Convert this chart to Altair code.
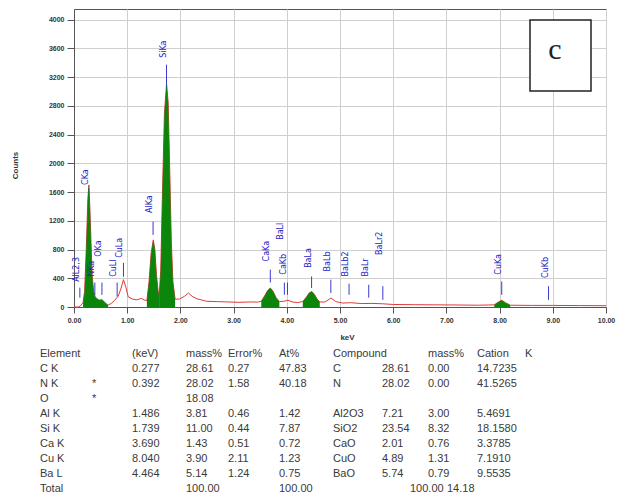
import altair as alt
import pandas as pd

# ---------------- spectrum data (keV, counts) ----------------
kev = [0.00, 0.08, 0.12, 0.17, 0.20, 0.23, 0.26, 0.28, 0.30, 0.32, 0.34, 0.37, 0.40, 0.44, 0.48,
       0.52, 0.56, 0.60, 0.64, 0.70, 0.76, 0.83, 0.88, 0.93, 0.97, 1.02, 1.10, 1.18, 1.27, 1.33,
       1.37, 1.41, 1.45, 1.49, 1.52, 1.55, 1.58, 1.60, 1.63, 1.66, 1.70, 1.74, 1.77, 1.80, 1.83,
       1.86, 1.90, 1.98, 2.08, 2.15, 2.22, 2.31, 2.49, 2.70, 2.90, 3.10, 3.30, 3.45, 3.52, 3.58,
       3.64, 3.69, 3.74, 3.80, 3.86, 3.95, 4.02, 4.10, 4.20, 4.30, 4.37, 4.42, 4.47, 4.52, 4.57,
       4.62, 4.72, 4.83, 4.92, 5.05, 5.20, 5.40, 5.60, 5.80, 6.00, 6.40, 6.80, 7.20, 7.60, 7.90,
       7.97, 8.04, 8.11, 8.20, 8.60, 9.00, 9.50, 10.00]
counts = [0, 0, 15, 60, 220, 800, 1500, 1700, 1350, 900, 450, 210, 140, 110, 95,
          105, 80, 50, 25, 50, 90, 150, 250, 380, 290, 140, 110, 100, 120, 95,
          90, 350, 750, 935, 800, 450, 230, 150, 500, 1500, 2700, 3110, 2850, 1900, 900,
          350, 110, 110, 150, 195, 150, 115, 80, 75, 70, 65, 70, 68, 80, 150,
          230, 265, 220, 130, 75, 80, 95, 70, 62, 75, 140, 195, 217, 175, 110,
          70, 70, 125, 75, 55, 60, 48, 50, 45, 35, 32, 30, 28, 25, 30,
          65, 95, 60, 25, 22, 22, 20, 18]

# energy windows of the identified (green) peaks
peak_start = [0.17, 1.37, 1.60, 3.52, 4.30, 7.90]
peak_end = [0.64, 1.60, 1.90, 3.86, 4.62, 8.20]

# peak markers
mk_name = ["AlL2,3", "CKa", "NKa", "OKa", "CuLl", "CuLa", "AlKa", "SiKa", "CaKa", "BaLl", "CaKb",
           "BaLa", "BaLb", "BaLb2", "BaLr", "BaLr2", "CuKa", "CuKb"]
mk_kev = [0.11, 0.277, 0.392, 0.525, 0.811, 0.930, 1.486, 1.739, 3.690, 3.954, 4.012,
          4.466, 4.828, 5.170, 5.540, 5.805, 8.040, 8.920]
mk_lo = [130, 1500, 170, 170, 145, 420, 1005, 3015, 340, 170, 170,
         265, 195, 170, 130, 100, 170, 100]
mk_hi = [270, 1650, 340, 340, 340, 615, 1190, 3375, 520, 340, 340,
         425, 380, 325, 310, 290, 355, 290]
mk_lab = [350, 1700, 420, 700, 420, 685, 1310, 3470, 635, 935, 450,
          545, 495, 425, 425, 725, 450, 405]

# ---------------- table ----------------
t_element = ["Element", "C K", "N K", "O", "Al K", "Si K", "Ca K", "Cu K", "Ba L", "Total"]
t_flag = ["", "", "*", "*", "", "", "", "", "", ""]
t_kev = ["(keV)", "0.277", "0.392", "", "1.486", "1.739", "3.690", "8.040", "4.464", ""]
t_mass = ["mass%", "28.61", "28.02", "18.08", "3.81", "11.00", "1.43", "3.90", "5.14", "100.00"]
t_err = ["Error%", "0.27", "1.58", "", "0.46", "0.44", "0.51", "2.11", "1.24", ""]
t_at = ["At%", "47.83", "40.18", "", "1.42", "7.87", "0.72", "1.23", "0.75", "100.00"]
t_comp = ["Compound", "C", "N", "", "Al2O3", "SiO2", "CaO", "CuO", "BaO", ""]
t_cmass = ["", "28.61", "28.02", "", "7.21", "23.54", "2.01", "4.89", "5.74", ""]
t_cmass2 = ["mass%", "0.00", "0.00", "", "3.00", "8.32", "0.76", "1.31", "0.79", ""]
t_cation = ["Cation", "14.7235", "41.5265", "", "5.4691", "18.1580", "3.3785", "7.1910", "9.5535", ""]
t_k = ["K", "", "", "", "", "", "", "", "", ""]
t_total_extra = ["100.00", "14.18"]

# ---------------- layout ----------------
PL, PT = 74, 9            # page position of plot origin
W, H = 532, 298
col_x = [40, 92, 132, 186, 228, 279, 333, 382, 428, 477, 525]
total_extra_x = [410, 447]
row_y0, row_dy = 354, 15.0

spec = pd.DataFrame({"kev": kev, "counts": counts})
frames = []
for i, (a, b) in enumerate(zip(peak_start, peak_end)):
    sub = spec[(spec.kev >= a) & (spec.kev <= b)].copy()
    sub["grp"] = i
    frames.append(sub)
green = pd.concat(frames)

markers = pd.DataFrame({"name": mk_name, "kev": mk_kev, "lo": mk_lo, "hi": mk_hi, "lab": mk_lab})

cols = [t_element, t_flag, t_kev, t_mass, t_err, t_at, t_comp, t_cmass, t_cmass2, t_cation, t_k]
recs = []
for cx, col in zip(col_x, cols):
    for r, txt in enumerate(col):
        if txt:
            recs.append({"t": txt, "xp": cx - PL, "yp": row_y0 + r * row_dy - PT})
for cx, txt in zip(total_extra_x, t_total_extra):
    recs.append({"t": txt, "xp": cx - PL, "yp": row_y0 + 9 * row_dy - PT})
table = pd.DataFrame(recs)

xs = alt.Scale(domain=[0, 10], nice=False)
ys = alt.Scale(domain=[0, 4150], nice=False)

base_x = alt.X("kev:Q", scale=xs,
               axis=alt.Axis(values=list(range(11)), tickCount=11, format=".2f", title="keV",
                             titleX=273, titleY=30, titleAlign="center", titleBaseline="middle",
                             titleFontSize=8, titleFont="Liberation Sans", titleFontWeight="bold",
                             titleColor="#333", labelFlush=False, labelOverlap=False,
                             labelFont="Liberation Sans", labelFontSize=7, labelFontWeight="bold",
                             labelColor="#333", tickSize=6, tickColor="#555", labelPadding=3,
                             gridColor="#cfcfcf", domainColor="#555"))
base_y = alt.Y("counts:Q", scale=ys, stack=None,
               axis=alt.Axis(values=list(range(0, 4001, 400)), tickCount=11, format="d",
                             title="Counts",
                             titleX=-59, titleY=156, titleAngle=270, titleAlign="center",
                             titleBaseline="middle", titleFontSize=8, titleFont="Liberation Sans",
                             titleFontWeight="bold", titleColor="#333",
                             labelFlush=False, labelOverlap=False,
                             labelFont="Liberation Sans", labelFontSize=7, labelFontWeight="bold",
                             labelColor="#333", tickSize=7, tickColor="#555", labelPadding=3,
                             gridColor="#cfcfcf", domainColor="#555"))

red = alt.Chart(spec).mark_line(color="#e03a3a", strokeWidth=1).encode(x=base_x, y=base_y)

mk_lines = alt.Chart(markers).mark_rule(color="#3a3ad0", strokeWidth=1).encode(
    x=alt.X("kev:Q", scale=xs), y=alt.Y("lo:Q", scale=ys), y2="hi:Q")

greens = alt.Chart(green).mark_area(color="#0b860b", opacity=1).encode(
    x=alt.X("kev:Q", scale=xs), y=alt.Y("counts:Q", scale=ys, stack=None), detail="grp:N")

mk_text = alt.Chart(markers).mark_text(
    angle=270, align="left", baseline="bottom", fontSize=8, font="DejaVu Sans",
    color="#2323c8", dy=1).encode(
    x=alt.X("kev:Q", scale=xs), y=alt.Y("lab:Q", scale=ys), text="name:N")

tbl = alt.Chart(table).mark_text(
    align="left", baseline="middle", fontSize=11, font="Liberation Sans", color="#3a3a3a").encode(
    x=alt.X("xp:Q", scale=None, axis=None), y=alt.Y("yp:Q", scale=None, axis=None), text="t:N")

box = alt.Chart(pd.DataFrame({"c": ["c"]})).mark_rect(
    fill="white", stroke="#222", strokeWidth=1.5).encode(
    x=alt.value(530 - PL), x2=alt.value(591 - PL), y=alt.value(20 - PT), y2=alt.value(91 - PT))
box_t = alt.Chart(pd.DataFrame({"c": ["c"]})).mark_text(
    fontSize=30, font="Liberation Serif", color="#222", baseline="middle", align="center").encode(
    x=alt.value(555 - PL), y=alt.value(50 - PT), text="c:N")

chart = alt.layer(red, mk_lines, greens, mk_text, box, box_t, tbl).properties(
    width=W, height=H,
    autosize=alt.AutoSizeParams(type="none"),
    padding={"left": PL - 8, "top": PT - 8, "right": 10, "bottom": 186},
    background="white",
).configure_view(stroke="#555", strokeWidth=1)

chart.save("out.html", embed_options={"renderer": "svg", "actions": False})
